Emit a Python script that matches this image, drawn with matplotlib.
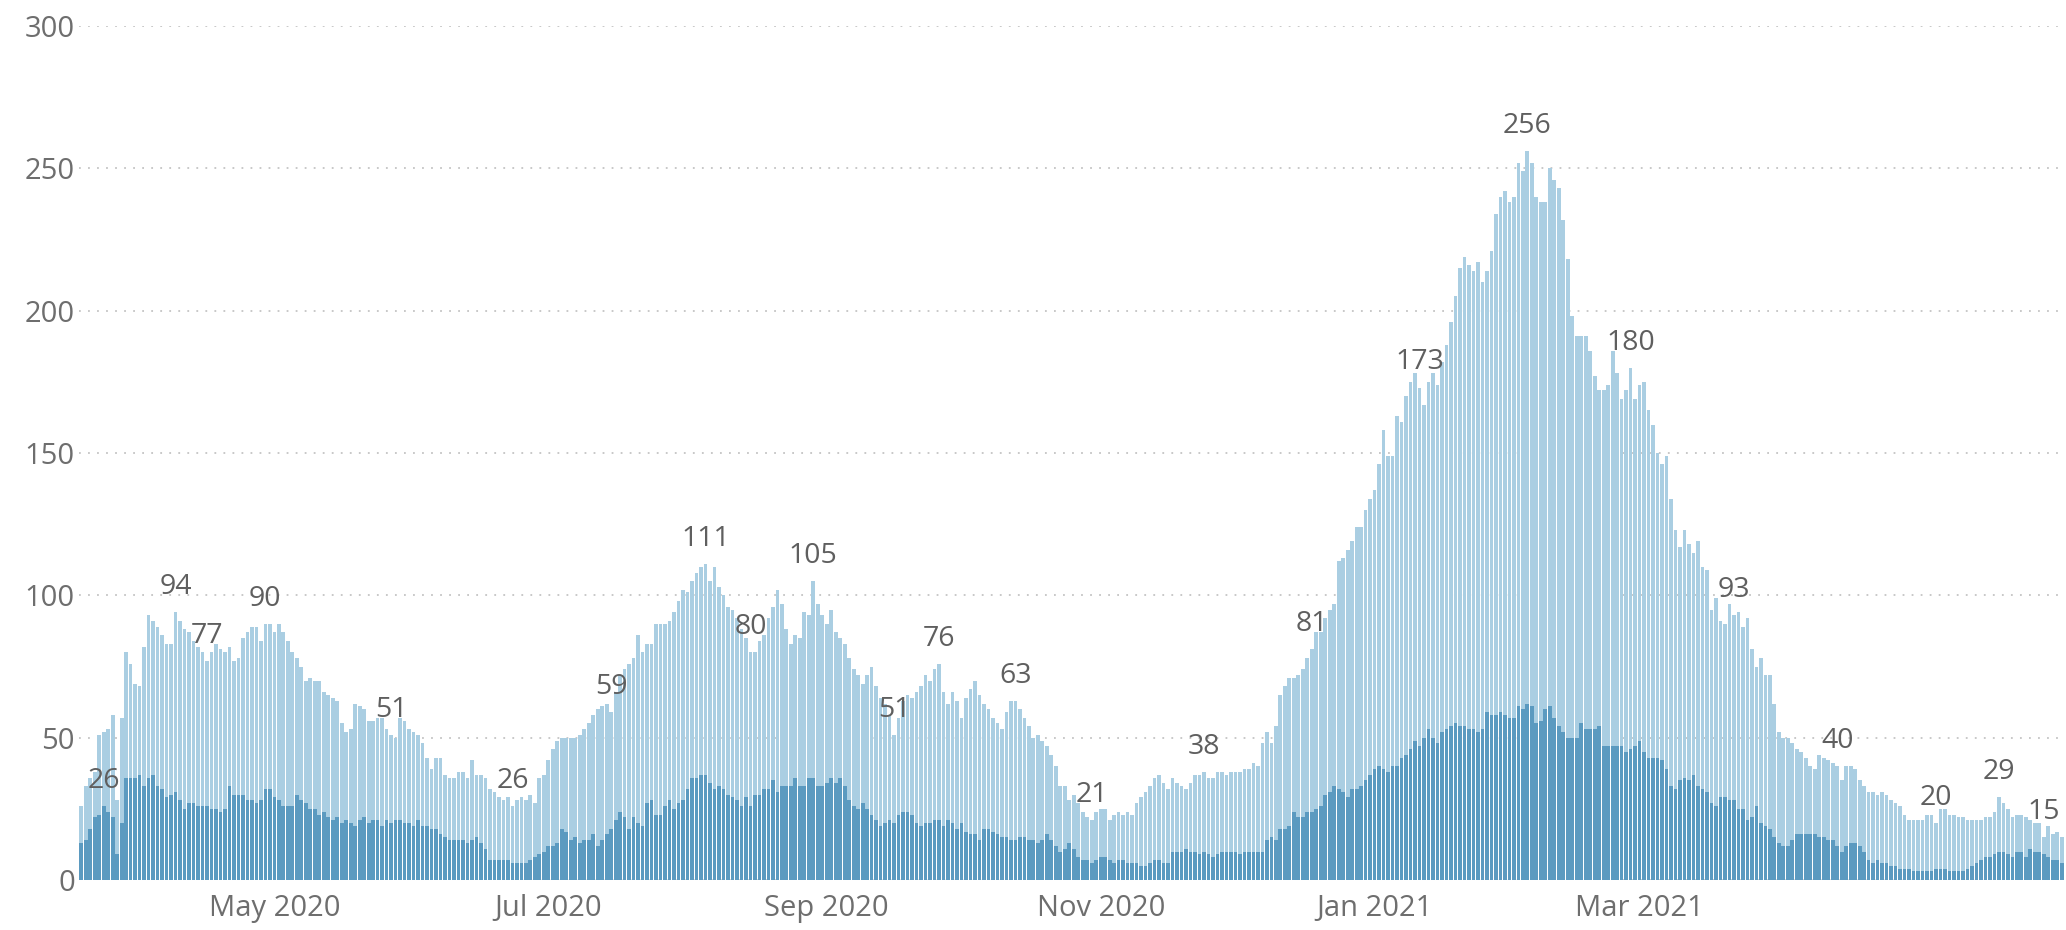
import numpy as np
import pandas as pd
import matplotlib
matplotlib.use("Agg")
import matplotlib.pyplot as plt

# -----------------------------
# Data (one bar per day, starting 2020-03-19)
# -----------------------------
start_date = "2020-03-19"

total = [
    26, 33, 36, 38, 51, 52, 53, 58, 28, 57,
    80, 76, 69, 68, 82, 93, 91, 89, 86, 83,
    83, 94, 91, 88, 87, 84, 82, 80, 77, 80,
    83, 81, 80, 82, 77, 78, 85, 87, 89, 89,
    84, 90, 90, 87, 90, 87, 84, 80, 78, 75,
    70, 71, 70, 70, 66, 65, 64, 63, 55, 52,
    53, 62, 61, 60, 56, 56, 57, 57, 53, 51,
    50, 57, 56, 53, 52, 51, 48, 43, 39, 43,
    43, 37, 36, 36, 38, 38, 36, 42, 37, 37,
    36, 32, 31, 29, 28, 29, 26, 28, 29, 28,
    30, 27, 36, 37, 42, 46, 49, 50, 50, 50,
    50, 51, 53, 55, 58, 60, 61, 62, 59, 66,
    72, 74, 76, 78, 86, 80, 83, 83, 90, 90,
    90, 91, 94, 98, 102, 101, 105, 108, 110, 111,
    105, 110, 103, 100, 96, 95, 92, 88, 85, 80,
    80, 84, 86, 92, 96, 102, 97, 88, 83, 86,
    85, 94, 93, 105, 97, 93, 90, 95, 87, 85,
    83, 78, 74, 72, 69, 72, 75, 68, 64, 62,
    58, 51, 57, 63, 65, 64, 66, 68, 72, 70,
    74, 76, 66, 62, 66, 63, 57, 64, 67, 70,
    65, 62, 60, 57, 55, 53, 59, 63, 63, 60,
    57, 54, 50, 51, 49, 47, 44, 40, 33, 33,
    28, 30, 27, 24, 22, 21, 24, 25, 25, 21,
    23, 24, 23, 24, 23, 27, 29, 31, 33, 36,
    37, 34, 32, 36, 34, 33, 32, 34, 37, 37,
    38, 36, 36, 38, 38, 37, 38, 38, 38, 39,
    39, 41, 40, 48, 52, 48, 54, 65, 68, 71,
    71, 72, 74, 78, 81, 87, 87, 92, 95, 97,
    112, 113, 116, 119, 124, 124, 130, 134, 137, 146,
    158, 149, 149, 163, 161, 170, 175, 178, 173, 167,
    175, 178, 174, 182, 188, 196, 205, 215, 219, 216,
    214, 217, 210, 214, 221, 234, 240, 242, 238, 240,
    252, 249, 256, 252, 240, 238, 238, 250, 246, 243,
    232, 218, 198, 191, 191, 191, 186, 177, 172, 172,
    174, 186, 178, 169, 172, 180, 169, 174, 175, 165,
    160, 150, 146, 149, 134, 123, 117, 123, 118, 115,
    119, 110, 109, 95, 99, 91, 90, 97, 93, 94,
    89, 92, 81, 75, 78, 72, 72, 62, 52, 50,
    50, 48, 46, 45, 43, 40, 39, 44, 43, 42,
    41, 40, 35, 40, 40, 39, 35, 33, 31, 31,
    30, 31, 30, 28, 27, 26, 23, 21, 21, 21,
    21, 23, 23, 20, 25, 25, 23, 23, 22, 22,
    21, 21, 21, 21, 22, 22, 24, 29, 27, 25,
    22, 23, 23, 22, 21, 20, 20, 15, 19, 16,
    17, 15,
]

subset = [
    13, 14, 18, 22, 23, 26, 24, 22, 9, 20,
    36, 36, 36, 37, 33, 36, 37, 33, 32, 29,
    30, 31, 28, 25, 27, 27, 26, 26, 26, 25,
    25, 24, 25, 33, 30, 30, 30, 28, 28, 27,
    28, 32, 32, 29, 28, 26, 26, 26, 30, 28,
    27, 25, 25, 23, 24, 22, 21, 22, 20, 21,
    20, 19, 21, 22, 20, 21, 21, 19, 21, 20,
    21, 21, 20, 20, 19, 21, 19, 19, 18, 18,
    16, 15, 14, 14, 14, 14, 13, 14, 15, 13,
    11, 7, 7, 7, 7, 7, 6, 6, 6, 6,
    7, 8, 9, 10, 12, 12, 13, 18, 17, 14,
    15, 13, 14, 14, 16, 12, 14, 16, 18, 21,
    24, 22, 18, 22, 20, 19, 27, 28, 23, 23,
    26, 28, 25, 27, 28, 32, 36, 36, 37, 37,
    34, 32, 33, 32, 30, 29, 28, 26, 29, 26,
    30, 30, 32, 32, 35, 31, 33, 33, 33, 36,
    33, 33, 36, 36, 33, 33, 34, 36, 34, 36,
    33, 28, 26, 25, 27, 25, 23, 21, 19, 20,
    21, 20, 23, 24, 24, 23, 20, 19, 20, 20,
    21, 21, 19, 21, 20, 18, 20, 17, 16, 16,
    14, 18, 18, 17, 16, 15, 15, 14, 14, 15,
    15, 14, 14, 13, 14, 16, 14, 12, 10, 11,
    13, 11, 8, 7, 7, 6, 7, 8, 8, 7,
    6, 7, 7, 6, 6, 6, 5, 5, 6, 7,
    7, 6, 6, 10, 10, 10, 11, 10, 10, 9,
    10, 9, 8, 9, 10, 10, 10, 10, 9, 10,
    10, 10, 10, 10, 14, 15, 14, 18, 18, 19,
    24, 22, 22, 24, 24, 25, 26, 30, 31, 33,
    32, 31, 29, 32, 32, 33, 35, 37, 39, 40,
    39, 38, 40, 40, 43, 44, 46, 49, 47, 50,
    53, 50, 48, 52, 53, 54, 55, 54, 54, 53,
    53, 52, 53, 59, 58, 58, 59, 58, 57, 57,
    61, 60, 62, 61, 55, 56, 60, 61, 57, 54,
    52, 50, 50, 50, 55, 53, 53, 53, 54, 47,
    47, 47, 47, 47, 45, 46, 47, 49, 45, 43,
    43, 43, 42, 39, 33, 32, 35, 36, 35, 37,
    33, 32, 31, 27, 26, 29, 29, 28, 28, 25,
    25, 21, 22, 26, 20, 19, 18, 15, 13, 12,
    12, 14, 16, 16, 16, 16, 16, 15, 15, 14,
    14, 12, 10, 12, 13, 13, 12, 10, 7, 6,
    7, 6, 6, 5, 5, 4, 4, 4, 3, 3,
    3, 3, 3, 4, 4, 4, 3, 3, 3, 3,
    4, 5, 6, 7, 8, 8, 9, 10, 10, 9,
    8, 10, 10, 8, 11, 10, 10, 9, 8, 7,
    7, 6,
]

# bars that carry a value label
labelled_total = [21, 28, 41, 69, 96, 118, 139, 149, 163, 181, 191, 208,
                  225, 250, 274, 298, 322, 345, 368, 391, 413, 427, 437]
labelled_subset = [5]

month_ticks = ["2020-05-01", "2020-07-01", "2020-09-01",
               "2020-11-01", "2021-01-01", "2021-03-01"]
month_labels = ["May 2020", "Jul 2020", "Sep 2020",
                "Nov 2020", "Jan 2021", "Mar 2021"]
y_ticks = [0, 50, 100, 150, 200, 250, 300]

# -----------------------------
# Style
# -----------------------------
LIGHT = "#aacee2"
DARK = "#5b9ac0"
TEXT = "#5f5f5f"
plt.rcParams["font.family"] = ["Open Sans", "DejaVu Sans"]

W, H = 2066, 930
fig = plt.figure(figsize=(W / 100, H / 100), dpi=100)
ax = fig.add_axes([79 / W, 50 / H, 1985 / W, 854 / H])

x = np.arange(len(total))
ax.bar(x, total, width=0.82, color=LIGHT, linewidth=0, zorder=2)
ax.bar(x, subset, width=0.82, color=DARK, linewidth=0, zorder=3)

ax.set_xlim(-0.5, len(total) - 0.5)
ax.set_ylim(0, 300)

# month ticks as day offsets from the first bar
t0 = pd.Timestamp(start_date)
tick_pos = [(pd.Timestamp(d) - t0).days for d in month_ticks]
ax.set_xticks(tick_pos)
ax.set_xticklabels(month_labels)
ax.set_yticks(y_ticks)

ax.tick_params(axis="both", length=0, labelsize=21, labelcolor="#6e6e6e")
ax.tick_params(axis="x", pad=10)
ax.tick_params(axis="y", pad=3)

ax.yaxis.grid(True, linestyle=(0, (1, 4)), color="#c4c4c4", linewidth=1.3)
ax.set_axisbelow(True)
for s in ax.spines.values():
    s.set_visible(False)

# value labels
for i in labelled_total:
    ax.annotate(str(total[i]), (i, total[i]), xytext=(0, 13),
                textcoords="offset points", ha="center", va="baseline",
                fontsize=20.5, color=TEXT, zorder=5)
for i in labelled_subset:
    ax.annotate(str(subset[i]), (i, subset[i]), xytext=(0, 13),
                textcoords="offset points", ha="center", va="baseline",
                fontsize=20.5, color=TEXT, zorder=5)

fig.savefig("out.png", dpi=100)
